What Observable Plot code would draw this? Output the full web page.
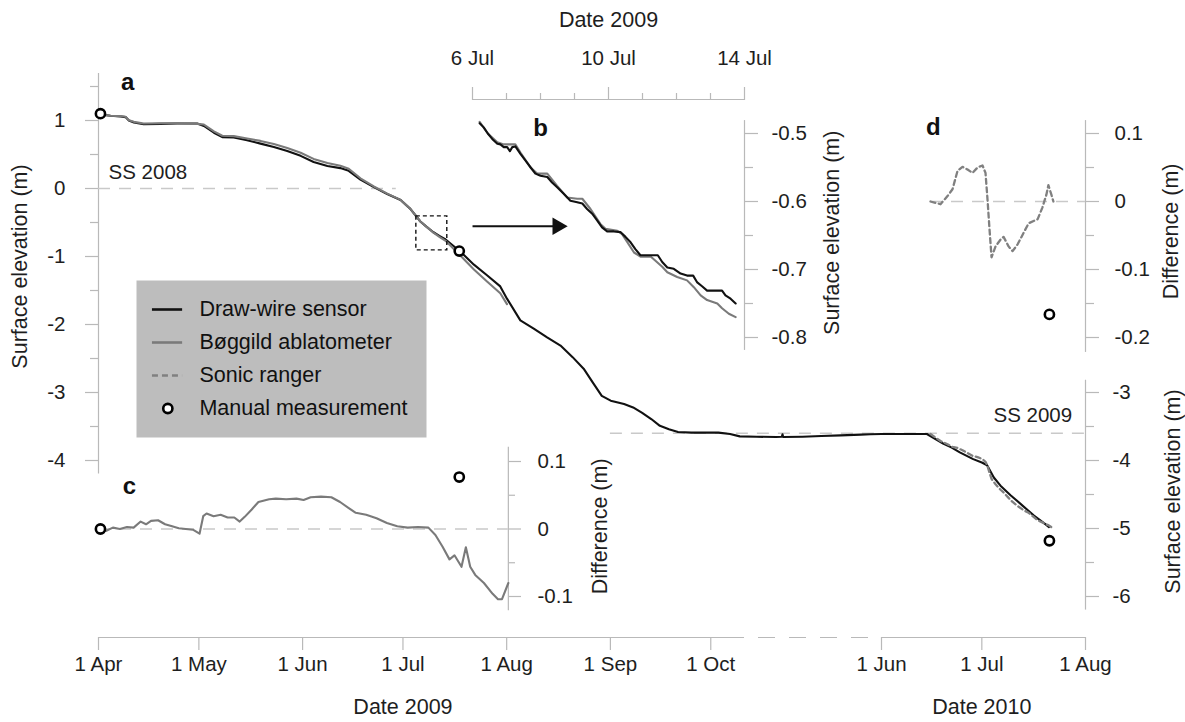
<!DOCTYPE html>
<html><head><meta charset="utf-8">
<script src="https://cdn.jsdelivr.net/npm/d3@7"></script>
<script src="https://cdn.jsdelivr.net/npm/@observablehq/plot@0.6"></script>
<style>
body{margin:0;background:#fff;}
#chart{position:relative;width:1185px;height:722px;background:#fff;overflow:hidden;}
#chart svg{position:absolute;left:0;top:0;}
</style></head><body><div id="chart"></div>
<script>
// ---------------- DATA ----------------
// Panel a: draw-wire sensor surface elevation (m)
const wireDates = ["2009-04-01T14:00","2009-04-04T14:00","2009-04-07T14:00","2009-04-09T02:00","2009-04-10T02:00","2009-04-11T14:00","2009-04-14T12:00","2009-04-19T12:00","2009-04-24T12:00","2009-04-30T12:00","2009-05-02T12:00","2009-05-05T12:00","2009-05-08T00:00","2009-05-11T10:00","2009-05-15T10:00","2009-05-19T10:00","2009-05-23T10:00","2009-05-27T10:00","2009-05-31T10:00","2009-06-04T07:00","2009-06-08T10:00","2009-06-12T07:00","2009-06-14T19:00","2009-06-18T07:00","2009-06-22T07:00","2009-06-26T07:00","2009-06-30T07:00","2009-07-03T05:00","2009-07-06T05:00","2009-07-08T00:00","2009-07-10T00:00","2009-07-12T00:00","2009-07-13T18:00","2009-07-18T05:00","2009-07-22T05:00","2009-07-26T05:00","2009-07-30T02:00","2009-08-01T02:00","2009-08-05T02:00","2009-08-09T02:00","2009-08-13T02:00","2009-08-17T02:00","2009-08-20T17:00","2009-08-24T00:00","2009-08-26T17:00","2009-08-29T10:00","2009-09-01T02:00","2009-09-05T02:00","2009-09-07T19:00","2009-09-10T12:00","2009-09-13T05:00","2009-09-15T19:00","2009-09-18T12:00","2009-09-21T05:00","2009-09-25T05:00","2009-10-03T07:00","2009-10-10T00:00","2009-10-25T00:00","2009-11-20T00:00","2009-12-20T00:00","2009-12-29T00:00","2009-12-30T00:00","2009-12-31T00:00","2010-01-30T00:00","2010-02-28T00:00","2010-03-30T00:00","2010-04-30T00:00","2010-05-15T00:00","2010-06-01T00:00","2010-06-14T14:00","2010-06-17T00:00","2010-06-19T10:00","2010-06-22T00:00","2010-06-24T10:00","2010-06-28T10:00","2010-07-01T00:00","2010-07-02T14:00","2010-07-04T14:00","2010-07-06T14:00","2010-07-09T14:00","2010-07-13T02:00","2010-07-16T14:00","2010-07-20T02:00","2010-07-21T02:00"];
const wireElev = [1.09,1.07,1.06,1.05,1.00,0.97,0.945,0.95,0.955,0.955,0.92,0.82,0.755,0.75,0.71,0.66,0.61,0.55,0.48,0.39,0.33,0.30,0.26,0.13,0.02,-0.08,-0.17,-0.30,-0.485,-0.56,-0.64,-0.70,-0.75,-0.93,-1.12,-1.28,-1.44,-1.62,-1.94,-2.06,-2.19,-2.31,-2.48,-2.65,-2.85,-3.05,-3.12,-3.17,-3.22,-3.30,-3.39,-3.49,-3.54,-3.58,-3.59,-3.59,-3.61,-3.645,-3.65,-3.655,-3.65,-3.615,-3.655,-3.65,-3.64,-3.63,-3.62,-3.615,-3.61,-3.61,-3.68,-3.75,-3.81,-3.88,-3.98,-4.03,-4.07,-4.25,-4.37,-4.51,-4.66,-4.81,-4.94,-4.98];
// Panel a: Bøggild ablatometer (2009)
const boggildDates = ["2009-04-01T14:00","2009-04-04T14:00","2009-04-07T14:00","2009-04-09T02:00","2009-04-10T02:00","2009-04-11T14:00","2009-04-14T12:00","2009-04-19T12:00","2009-04-24T12:00","2009-04-30T12:00","2009-05-02T12:00","2009-05-05T12:00","2009-05-08T00:00","2009-05-11T10:00","2009-05-15T10:00","2009-05-19T10:00","2009-05-23T10:00","2009-05-27T10:00","2009-05-31T10:00","2009-06-04T07:00","2009-06-08T10:00","2009-06-12T07:00","2009-06-14T19:00","2009-06-18T07:00","2009-06-22T07:00","2009-06-26T07:00","2009-06-30T07:00","2009-07-03T05:00","2009-07-06T05:00","2009-07-08T00:00","2009-07-10T00:00","2009-07-12T00:00","2009-07-13T18:00","2009-07-18T05:00","2009-07-22T05:00","2009-07-26T05:00","2009-07-30T02:00","2009-08-01T02:00"];
const boggildElev = [1.09,1.07,1.065,1.055,1.005,0.98,0.955,0.96,0.96,0.95,0.94,0.84,0.775,0.77,0.735,0.70,0.655,0.595,0.525,0.435,0.375,0.335,0.29,0.15,0.03,-0.075,-0.167,-0.30,-0.485,-0.56,-0.645,-0.715,-0.77,-0.99,-1.19,-1.37,-1.54,-1.70];
// Sonic ranger (2010): days after 1 Jun 2010 (shared with panel d)
const sonicDays = [14.65,17.64,19.74,21.23,22.73,24.22,25.72,27.21,28.71,30.2,31.1,31.7,32.3,32.9,34.1,35.6,36.5,38.0,39.2,40.7,42.5,44.0,46.7,48.1,49.3,49.9,50.8,51.4];
const sonicElev = [-3.61,-3.714,-3.76,-3.80,-3.815,-3.85,-3.89,-3.93,-3.95,-3.98,-4.02,-4.08,-4.18,-4.27,-4.35,-4.43,-4.47,-4.55,-4.61,-4.67,-4.73,-4.77,-4.88,-4.91,-4.94,-4.95,-4.98,-5.0];
// Manual measurements
const manualDates = ["2009-04-01T14:00","2009-07-17T20:00","2010-07-21T05:00"];
const manualElev = [1.10,-0.92,-5.18];
const manualDiffC = [0, 0.077];     // panel c (first two)
const manualDiffD = [-0.166];       // panel d (last)
// Panel b: 6-14 Jul 2009, days after 6 Jul
const bWireDays = [0.21,0.33,0.45,0.58,0.73,0.82,0.92,1.02,1.10,1.17,1.26,1.41,1.56,1.71,1.85,2.0,2.20,2.34,2.49,2.69,2.88,3.08,3.23,3.37,3.52,3.67,3.81,3.96,4.16,4.35,4.5,4.65,4.79,4.94,5.14,5.33,5.45,5.58,5.73,5.92,6.12,6.31,6.49,6.61,6.76,6.90,7.10,7.34,7.44,7.59,7.74];
const bWireElev = [-0.485,-0.491,-0.500,-0.508,-0.515,-0.516,-0.520,-0.520,-0.526,-0.520,-0.519,-0.530,-0.540,-0.550,-0.559,-0.562,-0.564,-0.572,-0.579,-0.589,-0.599,-0.601,-0.603,-0.611,-0.618,-0.628,-0.638,-0.644,-0.644,-0.645,-0.652,-0.660,-0.670,-0.679,-0.679,-0.679,-0.679,-0.689,-0.697,-0.699,-0.706,-0.709,-0.709,-0.719,-0.725,-0.731,-0.731,-0.731,-0.738,-0.743,-0.750];
const bBogDays = [0.21,0.45,0.73,0.92,1.26,1.41,1.71,1.90,2.20,2.49,2.78,3.08,3.23,3.47,3.76,3.91,4.26,4.40,4.75,4.94,5.24,5.58,5.73,6.02,6.31,6.51,6.71,6.90,7.20,7.34,7.54,7.74];
const bBogElev = [-0.483,-0.500,-0.513,-0.516,-0.516,-0.528,-0.550,-0.559,-0.559,-0.577,-0.594,-0.596,-0.596,-0.611,-0.633,-0.640,-0.643,-0.648,-0.675,-0.681,-0.681,-0.696,-0.704,-0.711,-0.716,-0.726,-0.738,-0.745,-0.750,-0.757,-0.765,-0.770];
// Panel c: Bøggild minus draw-wire (m), days after 1 Apr 2009
const cDays = [0.6,2.2,4.3,6.4,8.5,10.5,12.6,14.2,15.7,17.8,19.9,22.0,24.0,26.1,28.2,30.2,31.3,32.3,34.4,36.5,38.6,40.6,42.2,43.7,45.8,47.8,51.0,53.0,56.1,59.2,61.3,63.4,66.5,69.6,72.2,74.8,76.9,80.0,83.1,86.2,89.3,92.4,95.5,98.6,100.7,102.8,104.9,106.4,108.5,109.8,111.1,112.6,115.2,117.8,119.4,120.6,122.5];
const cDiff = [0,-0.003,0.002,0,0.003,0.002,0.011,0.007,0.012,0.013,0.007,0.004,0.001,0,-0.001,-0.007,0.019,0.023,0.019,0.021,0.017,0.017,0.011,0.018,0.029,0.040,0.044,0.045,0.044,0.045,0.043,0.047,0.048,0.047,0.040,0.031,0.024,0.021,0.016,0.009,0.004,0.002,0.003,0.002,-0.009,-0.026,-0.045,-0.039,-0.056,-0.027,-0.056,-0.068,-0.080,-0.096,-0.104,-0.104,-0.080];
// Panel d: sonic ranger minus draw-wire (m), at sonicDays
const dDiff = [0,-0.004,0.008,0.018,0.045,0.051,0.047,0.042,0.050,0.053,0.042,0.003,-0.041,-0.082,-0.066,-0.056,-0.052,-0.066,-0.073,-0.063,-0.046,-0.032,-0.026,-0.009,0.010,0.024,0.010,0.000];
// Ticks and labels
const mainTicks = ["2009-04-01","2009-05-01","2009-06-01","2009-07-01","2009-08-01","2009-09-01","2009-10-01","2010-06-01","2010-07-01","2010-08-01"];
const bMajorTicks = ["2009-07-06","2009-07-10","2009-07-14"];
const bMinorTicks = ["2009-07-07","2009-07-08","2009-07-09","2009-07-11","2009-07-12","2009-07-13"];
const legendItems = ["Draw-wire sensor","Bøggild ablatometer","Sonic ranger","Manual measurement"];

// ---------------- HELPERS ----------------
const D = s => new Date(s.length === 10 ? s + "T00:00:00Z" : s + ":00Z");
const plusDays = (base, n) => new Date(D(base).getTime() + n * 864e5);
const W = 1185, H = 722;
const FONT = "'Liberation Sans', Arial, Helvetica, sans-serif";
const AX = "#b9b9b9", TXT = "#1e1e1e", ZERO = "#c9c9c9";
const TICKFS = 20.5, TITLEFS = 21.5, LETTERFS = 24;
const numFmt = d => String(d);
const chart = document.getElementById("chart");

function layer(opts) {
  const svg = Plot.plot({width: W, height: H, ...opts,
    style: {fontFamily: FONT, fontSize: TICKFS + "px", background: "transparent", color: TXT, overflow: "visible"}});
  chart.appendChild(svg);
}
function yAxis(anchor, major, minor, size, minorSize, pad) {
  return [
    Plot.axisY({anchor, ticks: major, tickSize: size, stroke: AX, strokeWidth: 1.2, tickFormat: () => "", label: null}),
    Plot.axisY({anchor, ticks: minor, tickSize: minorSize, stroke: AX, strokeWidth: 1.2, tickFormat: () => "", label: null}),
    Plot.axisY({anchor, ticks: major, tickSize: 0, tickPadding: pad, tickFormat: numFmt, fill: TXT, fontSize: TICKFS, label: null})
  ];
}
// rotated axis title positioned beside a frame edge
const vTitle = (s, y, side, dx) => Plot.text([{s, y}], {y: "y", text: "s", frameAnchor: side, dx, rotate: -90,
  textAnchor: "middle", lineAnchor: "middle", fontSize: TITLEFS, fill: TXT});
const letter = (s, x, y) => Plot.text([{s, x, y}], {x: "x", y: "y", text: "s", fontWeight: "bold", fontSize: LETTERFS, fill: "#111"});
const xMain = {type: "utc", domain: [D("2009-04-01"), D("2009-10-06"), D("2010-06-01"), D("2010-08-01")],
               range: [98, 727, 881, 1085], label: null};
const xMainNoAxis = {...xMain, axis: null};

const wire = wireDates.map((d, i) => ({t: D(d), v: wireElev[i]}));
const bog = boggildDates.map((d, i) => ({t: D(d), v: boggildElev[i]}));
const sonic = sonicDays.map((n, i) => ({t: plusDays("2010-06-01", n), v: sonicElev[i]}));
const manual = manualDates.map((d, i) => ({t: D(d), v: manualElev[i]}));
const bWire = bWireDays.map((n, i) => ({t: plusDays("2009-07-06", n), v: bWireElev[i]}));
const bBog = bBogDays.map((n, i) => ({t: plusDays("2009-07-06", n), v: bBogElev[i]}));
const cData = cDays.map((n, i) => ({t: plusDays("2009-04-01", n), v: cDiff[i]}));
const dData = sonicDays.map((n, i) => ({t: plusDays("2010-06-01", n), v: dDiff[i]}));
const cManual = manualDiffC.map((v, i) => ({t: D(manualDates[i]), v}));
const dManual = manualDiffD.map(v => ({t: D(manualDates[2]), v}));

const circle = {r: 4.6, stroke: "#000", strokeWidth: 2.6, fill: "#fff"};
const fmtDate = d3.utcFormat("%-d %b");

// ---------------- PANEL a (main) ----------------
const ssLines = [
  {y: 0, x1: D("2009-04-01"), x2: D("2009-06-29")},
  {y: -3.6, x1: D("2009-09-01"), x2: D("2010-08-01")}
];
const axisSegs = [
  {x1: D("2009-04-01"), x2: D("2009-10-06"), dash: null},
  {x1: D("2009-10-06"), x2: D("2010-06-01"), dash: "17,14"},
  {x1: D("2010-06-01"), x2: D("2010-08-01"), dash: null}
];
layer({
  marginLeft: 98, marginRight: 100, marginTop: 73, marginBottom: 85,
  x: xMain, y: {domain: [-4, 1], range: [460, 120], label: null},
  marks: [
    // axis lines
    Plot.ruleX([{x: D("2009-04-01"), y1: 1.69, y2: -4.2}], {x: "x", y1: "y1", y2: "y2", stroke: AX, strokeWidth: 1.2}),
    Plot.ruleX([{x: D("2010-08-01"), y1: -2.82, y2: -6.2}], {x: "x", y1: "y1", y2: "y2", stroke: AX, strokeWidth: 1.2}),
    Plot.ruleY(axisSegs.filter(s => !s.dash), {y: () => -6.603, x1: "x1", x2: "x2", stroke: AX, strokeWidth: 1.2}),
    Plot.ruleY(axisSegs.filter(s => s.dash), {y: () => -6.603, x1: "x1", x2: "x2", stroke: AX, strokeWidth: 1.2, strokeDasharray: "17,14"}),
    ...yAxis("left", [1, 0, -1, -2, -3, -4], [1.5, 0.5, -0.5, -1.5, -2.5, -3.5], 13, 8, 33),
    ...yAxis("right", [-3, -4, -5, -6], [-3.5, -4.5, -5.5], 13, 8, 27),
    Plot.axisX({anchor: "bottom", ticks: mainTicks.map(D), tickSize: 13, stroke: AX, strokeWidth: 1.2, tickFormat: () => "", label: null}),
    Plot.text(mainTicks.map(D), {x: d => d, text: fmtDate, frameAnchor: "bottom", lineAnchor: "middle", dy: 27, fontSize: TICKFS, fill: TXT}),
    Plot.text([{t: D("2009-07-01"), s: "Date 2009"}, {t: D("2010-07-01"), s: "Date 2010"}],
      {x: "t", text: "s", frameAnchor: "bottom", lineAnchor: "middle", dy: 70, fontSize: TITLEFS, fill: TXT}),
    vTitle("Surface elevation (m)", -1.147, "left", -78),
    vTitle("Surface elevation (m)", -4.456, "right", 88),
    // summer surface reference lines
    Plot.ruleY(ssLines, {y: "y", x1: "x1", x2: "x2", stroke: ZERO, strokeWidth: 1.6, strokeDasharray: "12,9"}),
    Plot.text([{x: D("2009-04-04"), y: 0.235, s: "SS 2008"}], {x: "x", y: "y", text: "s", textAnchor: "start", fontSize: TICKFS, fill: TXT}),
    Plot.text([{x: D("2010-07-28"), y: -3.34, s: "SS 2009"}], {x: "x", y: "y", text: "s", textAnchor: "end", fontSize: TICKFS, fill: TXT}),
    // series
    Plot.line(wire, {x: "t", y: "v", stroke: "#111", strokeWidth: 2.1}),
    Plot.line(bog, {x: "t", y: "v", stroke: "#7a7a7a", strokeWidth: 2.1}),
    Plot.line(sonic, {x: "t", y: "v", stroke: "#808080", strokeWidth: 2.3, strokeDasharray: "5,3.5"}),
    Plot.dot(manual, {x: "t", y: "v", ...circle}),
    // zoom box and arrow to panel b
    Plot.rect([{x1: D("2009-07-05T00:00"), x2: D("2009-07-14T06:00"), y1: -0.41, y2: -0.91}],
      {x1: "x1", x2: "x2", y1: "y1", y2: "y2", fill: "none", stroke: "#111", strokeWidth: 1.4, strokeDasharray: "4,3"}),
    Plot.link([{x1: D("2009-07-21T19:00"), x2: D("2009-08-15T00:00"), y: -0.555}],
      {x1: "x1", x2: "x2", y1: "y", y2: "y", stroke: "#111", strokeWidth: 2}),
    Plot.dot([{x: D("2009-08-16T05:00"), y: -0.555}], {x: "x", y: "y", symbol: "triangle", rotate: 90, r: 6.5, fill: "#111", stroke: "none"}),
    letter("a", D("2009-04-09T17:00"), 1.56)
  ]
});

// ---------------- PANEL c ----------------
layer({
  marginLeft: 98, marginRight: W - 508, marginTop: 447, marginBottom: H - 610,
  x: xMainNoAxis, y: {domain: [-0.1, 0.1], range: [596, 461], label: null},
  marks: [
    Plot.ruleX([{x: D("2009-08-01T12:00"), y1: 0.121, y2: -0.121}], {x: "x", y1: "y1", y2: "y2", stroke: AX, strokeWidth: 1.2}),
    ...yAxis("right", [0.1, 0, -0.1], [0.05, -0.05], 12, 6, 29),
    Plot.ruleY([{y: 0, x1: D("2009-04-01"), x2: D("2009-08-01T12:00")}], {y: "y", x1: "x1", x2: "x2", stroke: ZERO, strokeWidth: 1.6, strokeDasharray: "12,9"}),
    Plot.line(cData, {x: "t", y: "v", stroke: "#7a7a7a", strokeWidth: 2.1}),
    Plot.dot(cManual, {x: "t", y: "v", ...circle}),
    vTitle("Difference (m)", 0.004, "right", 92),
    letter("c", D("2009-04-10T06:00"), 0.063)
  ]
});

// ---------------- PANEL d ----------------
layer({
  marginLeft: 98, marginRight: 100, marginTop: 120, marginBottom: H - 352,
  x: xMainNoAxis, y: {domain: [-0.2, 0.1], range: [337, 133], label: null},
  marks: [
    Plot.ruleX([{x: D("2010-08-01"), y1: 0.119, y2: -0.222}], {x: "x", y1: "y1", y2: "y2", stroke: AX, strokeWidth: 1.2}),
    ...yAxis("right", [0.1, 0, -0.1, -0.2], [0.05, -0.05, -0.15], 13, 8, 29),
    Plot.ruleY([{y: 0, x1: plusDays("2010-06-01", sonicDays[0]), x2: D("2010-08-01")}], {y: "y", x1: "x1", x2: "x2", stroke: ZERO, strokeWidth: 1.6, strokeDasharray: "12,9"}),
    Plot.line(dData, {x: "t", y: "v", stroke: "#808080", strokeWidth: 2.3, strokeDasharray: "5,3.5"}),
    Plot.dot(dManual, {x: "t", y: "v", ...circle}),
    vTitle("Difference (m)", -0.044, "right", 86),
    letter("d", D("2010-06-16T12:00"), 0.109)
  ]
});

// ---------------- PANEL b ----------------
layer({
  marginLeft: 472, marginRight: W - 744, marginTop: 99, marginBottom: H - 350,
  x: {type: "utc", domain: [D("2009-07-06"), D("2009-07-14")], range: [472, 744], label: null},
  y: {domain: [-0.8, -0.5], range: [337, 133], label: null},
  marks: [
    Plot.ruleX([{x: D("2009-07-14"), y1: -0.481, y2: -0.819}], {x: "x", y1: "y1", y2: "y2", stroke: AX, strokeWidth: 1.2}),
    Plot.ruleY([{y: -0.45, x1: D("2009-07-06"), x2: D("2009-07-14")}], {y: "y", x1: "x1", x2: "x2", stroke: AX, strokeWidth: 1.2}),
    Plot.axisX({anchor: "top", ticks: bMajorTicks.map(D), tickSize: 13, stroke: AX, strokeWidth: 1.2, tickFormat: () => "", label: null}),
    Plot.axisX({anchor: "top", ticks: bMinorTicks.map(D), tickSize: 7, stroke: AX, strokeWidth: 1.2, tickFormat: () => "", label: null}),
    Plot.text(bMajorTicks.map(D), {x: d => d, text: fmtDate, frameAnchor: "top", lineAnchor: "middle", dy: -41, fontSize: TICKFS, fill: TXT}),
    Plot.text([{t: D("2009-07-10"), s: "Date 2009"}], {x: "t", text: "s", frameAnchor: "top", lineAnchor: "middle", dy: -79, fontSize: TITLEFS, fill: TXT}),
    ...yAxis("right", [-0.5, -0.6, -0.7, -0.8], [-0.55, -0.65, -0.75], 13, 8, 27),
    vTitle("Surface elevation (m)", -0.646, "right", 88),
    Plot.line(bBog, {x: "t", y: "v", stroke: "#7a7a7a", strokeWidth: 2.1}),
    Plot.line(bWire, {x: "t", y: "v", stroke: "#111", strokeWidth: 2.1}),
    letter("b", D("2009-07-08T00:00"), -0.493)
  ]
});

// ---------------- LEGEND ----------------
const legendRows = legendItems.map((s, i) => ({s, i}));
layer({
  marginLeft: 136, marginRight: W - 426, marginTop: 280, marginBottom: H - 437,
  x: {domain: [0, 1], range: [136, 426], label: null, axis: null},
  y: {domain: [0, 3], range: [309, 408], label: null, axis: null},
  marks: [
    Plot.frame({fill: "#bdbdbd", stroke: "none"}),
    Plot.ruleY([legendRows[0]], {y: "i", x1: () => 0.055, x2: () => 0.159, stroke: "#111", strokeWidth: 2.6}),
    Plot.ruleY([legendRows[1]], {y: "i", x1: () => 0.055, x2: () => 0.159, stroke: "#7a7a7a", strokeWidth: 2.6}),
    Plot.ruleY([legendRows[2]], {y: "i", x1: () => 0.055, x2: () => 0.159, stroke: "#808080", strokeWidth: 2.4, strokeDasharray: "6,4"}),
    Plot.dot([legendRows[3]], {y: "i", x: () => 0.108, ...circle}),
    Plot.text(legendRows, {y: "i", x: () => 0.217, text: "s", textAnchor: "start", fontSize: TITLEFS, fill: "#111"})
  ]
});
</script></body></html>
